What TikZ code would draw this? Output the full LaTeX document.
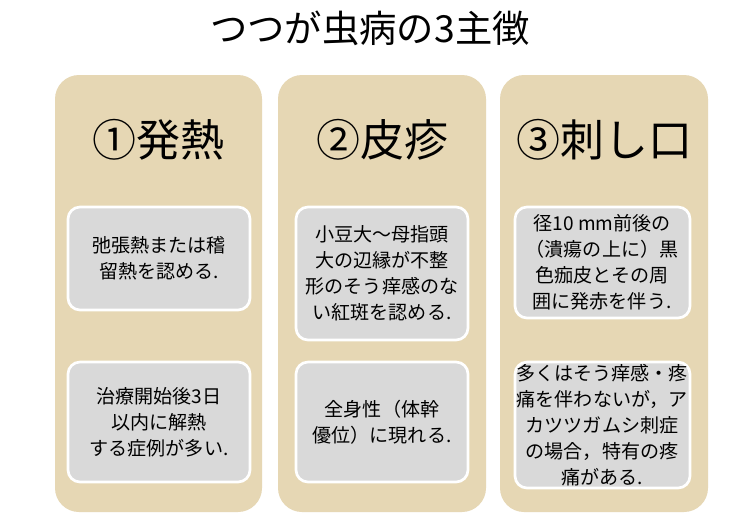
\documentclass[tikz,border=0pt]{standalone}
\usepackage{fontspec}
\setmainfont{Noto Sans CJK JP}
\begin{document}
\begin{tikzpicture}[x=0.75pt,y=-0.75pt,
 col/.style={fill=tan1,draw=none,rounded corners=18pt},
 inbox/.style={fill=gray1,draw=white,line width=2pt,rounded corners=9pt},
 txt/.style={font=\fontsize{14.3}{19.5}\selectfont,align=center},
 head/.style={font=\fontsize{33}{36}\selectfont}]
\definecolor{tan1}{HTML}{E6D7B4}
\definecolor{gray1}{HTML}{D9D9D9}
\useasboundingbox (0,0) rectangle (756,522);
\fill[white] (0,0) rectangle (756,522);
\node[font=\fontsize{28}{32}\selectfont] (title) at (370,28) {つつが虫病の3主徴};
\fill[col] (55,75) rectangle (262,512);
\fill[col] (278,75) rectangle (486,512);
\fill[col] (500,75) rectangle (708,512);
\node[head] (h1) at (158,140) {①発熱};
\node[head] (h2) at (382,140) {②皮疹};
\node[head] (h3) at (604,140) {③刺し口};
\draw[inbox] (68,207) rectangle (250,310);
\node[txt] (t1) at (159,258) {弛張熱または稽\\留熱を認める.};
\draw[inbox] (68,362) rectangle (250,482);
\node[txt] (t2) at (159,422) {治療開始後3日\\以内に解熱\\する症例が多い.};
\draw[inbox] (296,207) rectangle (468,340);
\node[txt] (t3) at (382,273) {小豆大～母指頭\\大の辺縁が不整\\形のそう痒感のな\\い紅斑を認める.};
\draw[inbox] (296,362) rectangle (468,482);
\node[txt] (t4) at (382,422) {全身性（体幹\\優位）に現れる.};
\draw[inbox] (515,207) rectangle (690,318);
\node[txt] (t5) at (602,262) {径10 mm前後の\\（潰瘍の上に）黒\\色痂皮とその周\\囲に発赤を伴う.};
\draw[inbox] (515,362) rectangle (690,488);
\node[txt] (t6) at (602,425) {多くはそう痒感・疼\\痛を伴わないが，ア\\カツツガムシ刺症\\の場合，特有の疼\\痛がある.};
\end{tikzpicture}
\end{document}
